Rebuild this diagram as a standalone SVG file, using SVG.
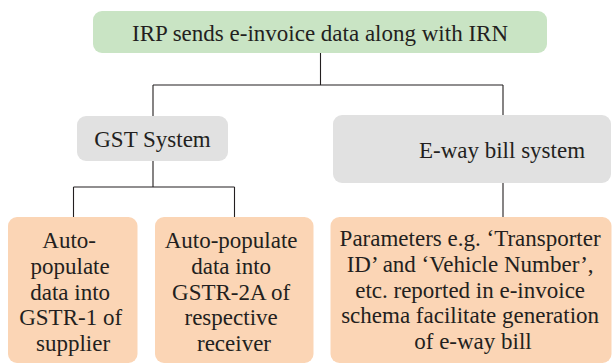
<svg xmlns="http://www.w3.org/2000/svg" width="612" height="364" viewBox="0 0 612 364">
  <style>
    text { font-family: 'Liberation Serif', 'Times New Roman', serif; font-size: 23px; fill: #231f20; text-anchor: middle; }
    .green { fill: #c9e4c4; }
    .gray { fill: #e1e1e1; }
    .peach { fill: #fbd5b5; }
    .conn { fill: none; stroke: #231f20; stroke-width: 1.1; }
  </style>
  <rect width="612" height="364" fill="#ffffff"/>

  <!-- tree connectors -->
  <g id="connectors">
    <path class="conn" d="M320.5 53 V85 M153 85 H503 M153 85 V116 M503 85 V116"/>
    <path class="conn" d="M153 161 V187 M73.5 187 H234.5 M73.5 187 V217 M234.5 187 V217"/>
    <path class="conn" d="M503 183 V217"/>
  </g>

  <g id="irp">
    <rect class="green" x="93" y="11" width="454" height="42" rx="9"/>
    <text x="320" y="41">IRP sends e-invoice data along with IRN</text>
  </g>

  <g id="gst">
    <rect class="gray" x="77" y="116" width="151" height="45" rx="9"/>
    <text x="152.5" y="146.7">GST System</text>
  </g>

  <g id="eway">
    <rect class="gray" x="333" y="115" width="278" height="68" rx="9"/>
    <text x="502" y="158.3">E-way bill system</text>
  </g>

  <g id="gstr1">
    <rect class="peach" x="8" y="217" width="129.5" height="146" rx="9"/>
    <text>
      <tspan x="72" y="248.3">Auto-</tspan>
      <tspan x="73" y="273.9">populate</tspan>
      <tspan x="73" y="299.5">data into</tspan>
      <tspan x="73.5" y="325.1">GSTR-1 of</tspan>
      <tspan x="73" y="350.7">supplier</tspan>
    </text>
  </g>

  <g id="gstr2a">
    <rect class="peach" x="155" y="217" width="158.5" height="146" rx="9"/>
    <text>
      <tspan x="234" y="248.3">Auto-populate</tspan>
      <tspan x="234" y="274">data into</tspan>
      <tspan x="234" y="299.7">GSTR-2A of</tspan>
      <tspan x="234" y="325.4">respective</tspan>
      <tspan x="234" y="351.1">receiver</tspan>
    </text>
  </g>

  <g id="params">
    <rect class="peach" x="330.5" y="217" width="281" height="146" rx="9"/>
    <text>
      <tspan x="473" y="246.3">Parameters e.g. ‘Transporter</tspan>
      <tspan x="473" y="271.9">ID’ and ‘Vehicle Number’,</tspan>
      <tspan x="473" y="297.5">etc. reported in e-invoice</tspan>
      <tspan x="473" y="323.1">schema facilitate generation</tspan>
      <tspan x="473" y="348.7">of e-way bill</tspan>
    </text>
  </g>
</svg>
